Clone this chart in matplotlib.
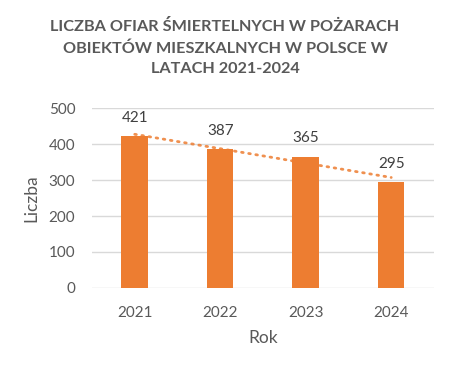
import matplotlib
matplotlib.use("Agg")
import matplotlib.pyplot as plt
import numpy as np

years = ["2021", "2022", "2023", "2024"]
values = [421, 387, 365, 295]
title = "LICZBA OFIAR ŚMIERTELNYCH W POŻARACH\nOBIEKTÓW MIESZKALNYCH W POLSCE W\nLATACH 2021-2024"

plt.rcParams['font.family'] = ['Lato', 'DejaVu Sans']
grey = "#595959"
orange = "#ED7D31"

fig = plt.figure(figsize=(4.5, 3.68), dpi=100)
ax = fig.add_axes([0.2044, 0.2174, 0.76, 0.4891])

x = np.arange(len(years))
ax.bar(x, values, width=0.31, color=orange, zorder=2)
for xi, v in zip(x, values):
    ax.annotate(str(v), (xi, v), xytext=(0, 8), textcoords="offset points",
                ha="center", va="bottom", fontsize=11, color="#404040")

coef = np.polyfit(x + 1, values, 1)
trend = np.polyval(coef, x + 1)
ax.plot(x, trend, linestyle=(0, (0.6, 2.0)), color=orange, lw=2.0,
        dash_capstyle="round", zorder=3, alpha=0.85)

ax.set_xlim(-0.5, 3.5)
ax.set_ylim(0, 500)
ax.set_yticks(range(0, 501, 100))
ax.set_xticks(x)
ax.set_xticklabels(years)
ax.yaxis.grid(True, color="#d9d9d9", lw=1)
ax.set_axisbelow(True)
for s in ax.spines.values():
    s.set_visible(False)
ax.tick_params(length=0, labelsize=11, colors=grey)
ax.tick_params(axis="x", pad=13)
ax.tick_params(axis="y", pad=12)
ax.set_xlabel("Rok", fontsize=12.5, color=grey, labelpad=7)
ax.set_ylabel("Liczba", fontsize=12.5, color=grey, labelpad=7)

fig.text(0.5, 0.8696, title, ha="center", va="center", fontsize=11.7,
         fontweight="bold", color=grey, linespacing=1.6)

fig.savefig("out.png", dpi=100)
